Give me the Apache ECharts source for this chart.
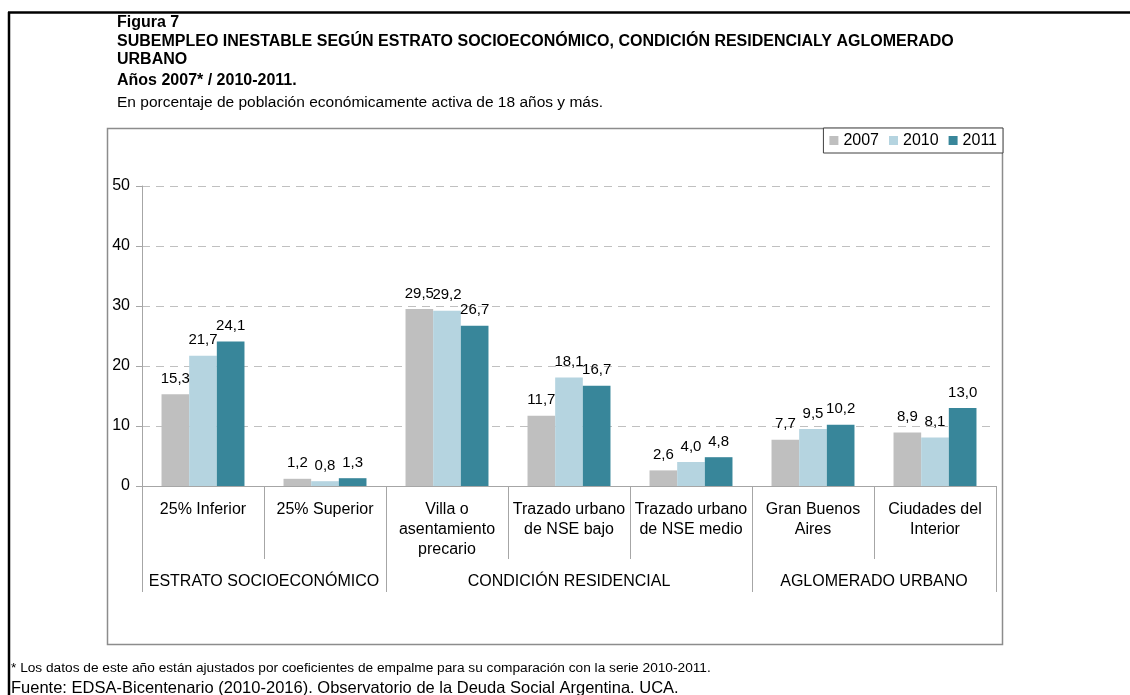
<!DOCTYPE html>
<html>
<head>
<meta charset="utf-8">
<title>Figura 7</title>
<script src="https://cdn.jsdelivr.net/npm/echarts@6/dist/echarts.min.js"></script>
<style>
  html, body { margin: 0; padding: 0; background: #fff; }
  #container { width: 1130px; height: 695px; }
</style>
</head>
<body>
<div id="container"></div>
<script>
const categories = [
  "25% Inferior",
  "25% Superior",
  "Villa o\nasentamiento\nprecario",
  "Trazado urbano\nde NSE bajo",
  "Trazado urbano\nde NSE medio",
  "Gran Buenos\nAires",
  "Ciudades del\nInterior",
];
const groups = ["ESTRATO SOCIOECONÓMICO", "CONDICIÓN RESIDENCIAL", "AGLOMERADO URBANO"];
const groupSizes = [2, 3, 2];
const years = ["2007", "2010", "2011"];
const v2007 = [15.3, 1.2, 29.5, 11.7, 2.6, 7.7, 8.9];
const v2010 = [21.7, 0.8, 29.2, 18.1, 4.0, 9.5, 8.1];
const v2011 = [24.1, 1.3, 26.7, 16.7, 4.8, 10.2, 13.0];
const yMax = 50;
const yStep = 10;

const colors = ["#BFBFBF", "#B5D4E0", "#38869A"];
const font = "Liberation Sans, Arial, sans-serif";

// group edges and centres on a 0..n scale
const groupEdges = [0];
groupSizes.forEach((s) => groupEdges.push(groupEdges[groupEdges.length - 1] + s));
const groupCenters = groups.map((g, i) => (groupEdges[i] + groupEdges[i + 1]) / 2);

const fmt = (v) => v.toFixed(1).replace(".", ",");

const dom = document.getElementById("container");
const myChart = echarts.init(dom, null, { renderer: "canvas" });

// one text line, placed by its vertical centre
const titleLine = (text, center, bold, size, left) => ({
  text: text,
  left: left,
  top: center - (size + 2) / 2,
  padding: 0,
  textStyle: {
    fontFamily: font,
    fontSize: size,
    fontWeight: bold ? "bold" : "normal",
    color: "#000",
    lineHeight: size + 2,
  },
});

const series = [v2007, v2010, v2011].map((vals, i) => ({
  name: years[i],
  type: "bar",
  data: vals,
  barGap: "0%",
  barCategoryGap: "32%",
  itemStyle: { color: colors[i] },
  label: {
    show: true,
    position: "top",
    distance: 8,
    fontFamily: font,
    fontSize: 15,
    color: "#000",
    formatter: (p) => fmt(p.value),
  },
}));

const option = {
  animation: false,
  title: [
    titleLine("Figura 7", 23, true, 16, 117),
    titleLine("SUBEMPLEO INESTABLE SEGÚN ESTRATO SOCIOECONÓMICO, CONDICIÓN RESIDENCIALY AGLOMERADO", 42, true, 16, 117),
    titleLine("URBANO", 60, true, 16, 117),
    titleLine("Años 2007* / 2010-2011.", 81, true, 16, 117),
    titleLine("En porcentaje de población económicamente activa de 18 años y más.", 103, false, 15.5, 117),
    titleLine("* Los datos de este año están ajustados por coeficientes de empalme para su comparación con la serie 2010-2011.", 668, false, 13.7, 11),
    titleLine("Fuente: EDSA-Bicentenario (2010-2016). Observatorio de la Deuda Social Argentina. UCA.", 688, false, 16.5, 11),
  ],
  graphic: [
    {
      type: "rect",
      shape: { x: 107.5, y: 128.5, width: 895, height: 516 },
      style: { fill: "none", stroke: "#8C8C8C", lineWidth: 1.5 },
      z: -1,
    },
    {
      type: "line",
      shape: { x1: 8, y1: 12.5, x2: 1130, y2: 12.5 },
      style: { stroke: "#000", lineWidth: 2.5 },
    },
    {
      type: "line",
      shape: { x1: 9, y1: 12, x2: 9, y2: 695 },
      style: { stroke: "#000", lineWidth: 2.5 },
    },
  ],
  legend: {
    data: years,
    right: 127,
    top: 128,
    padding: [4, 6, 4, 6],
    itemWidth: 9,
    itemHeight: 9,
    itemGap: 10,
    icon: "rect",
    borderColor: "#404040",
    borderWidth: 1,
    backgroundColor: "#fff",
    textStyle: { fontFamily: font, fontSize: 16, lineHeight: 17, color: "#000" },
  },
  grid: { left: 142, right: 134, top: 186, bottom: 209 },
  xAxis: [
    {
      type: "category",
      data: categories,
      axisLine: { lineStyle: { color: "#A6A6A6", width: 1 } },
      axisTick: { show: true, interval: 0, length: 73, lineStyle: { color: "#A6A6A6" } },
      axisLabel: {
        interval: 0,
        margin: 14,
        fontFamily: font,
        fontSize: 16,
        lineHeight: 20,
        color: "#000",
        verticalAlign: "top",
      },
    },
    {
      type: "value",
      position: "bottom",
      min: 0,
      max: categories.length,
      axisLine: { show: false },
      splitLine: { show: false },
      axisTick: {
        show: true,
        length: 106,
        customValues: groupEdges,
        lineStyle: { color: "#A6A6A6" },
      },
      axisLabel: {
        customValues: groupCenters,
        margin: 86,
        fontFamily: font,
        fontSize: 16,
        lineHeight: 20,
        color: "#000",
        formatter: (v) => groups[groupCenters.indexOf(v)] || "",
      },
    },
  ],
  yAxis: {
    type: "value",
    min: 0,
    max: yMax,
    interval: yStep,
    axisLine: { show: true, lineStyle: { color: "#A6A6A6" } },
    axisTick: { show: true, length: 6, lineStyle: { color: "#A6A6A6" } },
    axisLabel: { margin: 12, fontFamily: font, fontSize: 16, color: "#000" },
    splitLine: { lineStyle: { color: "#C0C0C0", type: [8, 6], width: 1 } },
  },
  series: series,
};

myChart.setOption(option);
</script>
</body>
</html>
